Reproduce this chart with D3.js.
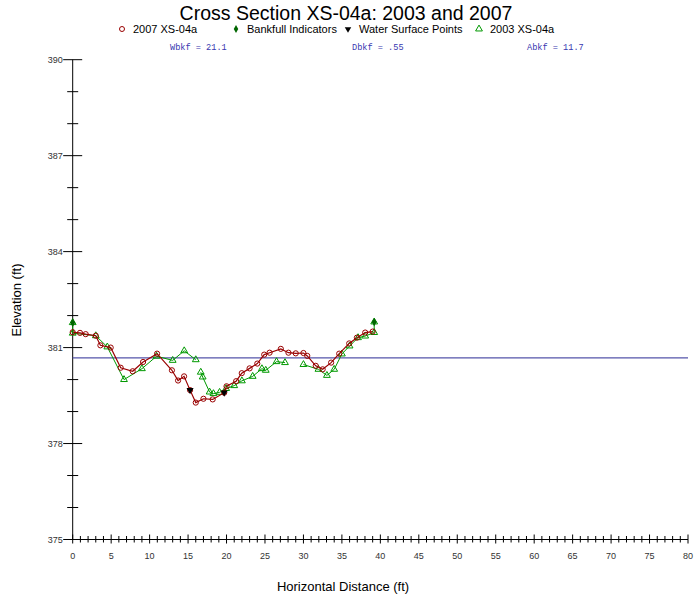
<!DOCTYPE html>
<html><head><meta charset="utf-8">
<script src="https://cdn.jsdelivr.net/npm/d3@7"></script>
<style>body{margin:0;background:#fff}svg{display:block}</style>
</head><body>
<script>
// ---- data ----
const title = "Cross Section XS-04a: 2003 and 2007";
const legendLabels = ["2007 XS-04a","Bankfull Indicators","Water Surface Points","2003 XS-04a"];
const statLabels = ["Wbkf = 21.1","Dbkf = .55","Abkf = 11.7"];
const xTicks = d3.range(0, 81, 5);
const yTicks = [375,378,381,384,387,390];
const xs2007 = [0,0.95,1.69,3.0,3.6,4.94,6.24,7.8,9.15,10.97,12.9,13.7,14.48,15.26,16.0,17.0,18.2,19.7,20.0,21.25,21.98,23.0,24.0,24.9,25.6,27.06,28.05,29.0,30.0,30.5,31.6,32.5,33.6,34.65,35.95,36.95,38.03,39.0];
const ys2007 = [381.48,381.46,381.42,381.37,381.07,381.0,380.37,380.26,380.55,380.81,380.29,379.97,380.1,379.67,379.28,379.4,379.38,379.59,379.79,379.95,380.2,380.35,380.5,380.78,380.84,380.96,380.84,380.82,380.83,380.74,380.43,380.32,380.53,380.81,381.13,381.31,381.47,381.5];
// 2003 survey in segments (gaps in the line)
const xs2003 = [[0,0,3.0,4.5,6.67,9.0,10.9,13.0,14.5,16.0],
                [16.65,16.9,17.8,18.3,19.1,19.95,21.0,22.0,23.4,24.6,25.1,26.5,27.6],
                [30.0,31.95,33.05,34.0,35.0,36.0,37.1,38.03,39.2,39.2]];
const ys2003 = [[381.78,381.45,381.37,381.02,380.0,380.34,380.73,380.6,380.9,380.62],
                [380.23,380.08,379.61,379.56,379.6,379.72,379.81,379.96,380.1,380.34,380.29,380.56,380.53],
                [380.47,380.32,380.13,380.32,380.8,381.05,381.31,381.36,381.47,381.8]];
const bankX = [0,39.2];
const bankY = [381.78,381.8];
const wsX = [15.26,19.7];
const wsY = [379.67,379.59];
const waterLevel = 380.68;

// ---- chart ----
const W = 696, H = 600;
const svg = d3.select("body").append("svg").attr("width", W).attr("height", H)
  .style("font-family", "Arial, 'Liberation Sans', sans-serif");
const x = d3.scaleLinear().domain([0, 80]).range([72.7, 688]);
const y = d3.scaleLinear().domain([375, 390]).range([539.5, 59.7]);

const red = "#990000", green = "#009900", dkgreen = "#006600", blue = "#5555aa";

// title & legend
svg.append("text").attr("x", 346).attr("y", 20).attr("text-anchor", "middle")
  .attr("font-size", 19.5).attr("fill", "#000").text(title);
const legX = [122, 236, 348, 479];
legendLabels.forEach((t, i) => {
  const g = svg.append("g").attr("transform", `translate(${legX[i]},29)`);
  if (i === 0) g.append("circle").attr("r", 2.5).attr("fill", "none").attr("stroke", red).attr("stroke-width", 1);
  if (i === 1) g.append("path").attr("d", d3.symbol(d3.symbolDiamond, 18)).attr("fill", dkgreen);
  if (i === 2) g.append("path").attr("d", d3.symbol(d3.symbolTriangle, 18)).attr("transform", "rotate(180)").attr("fill", "#000");
  if (i === 3) g.append("path").attr("d", d3.symbol(d3.symbolTriangle, 20)).attr("fill", "none").attr("stroke", green).attr("stroke-width", 1);
  g.append("text").attr("x", 11).attr("y", 4).attr("font-size", 11).attr("fill", "#000").text(t);
});
const statX = [170, 352, 527];
statLabels.forEach((t, i) => {
  svg.append("text").attr("x", statX[i]).attr("y", 50).attr("font-size", 8.6)
    .attr("font-family", "'Liberation Mono', 'DejaVu Sans Mono', monospace")
    .attr("fill", "#3838b0").text(t);
});

// axes
const yAxis = svg.append("g");
yAxis.append("line").attr("x1", x(0)).attr("x2", x(0)).attr("y1", y(390)).attr("y2", y(375)).attr("stroke", "#000");
d3.range(375, 391, 1).forEach(v => {
  const major = yTicks.includes(v);
  yAxis.append("line").attr("x1", x(0) - (major ? 9.5 : 5.5)).attr("x2", x(0) + (major ? 9.5 : 5.5))
    .attr("y1", y(v)).attr("y2", y(v)).attr("stroke", "#000");
});
yTicks.forEach(v => {
  yAxis.append("text").attr("x", x(0) - 10).attr("y", y(v) + 3.5).attr("text-anchor", "end")
    .attr("font-size", 9).attr("fill", "#333").text(v);
});
const xAxis = svg.append("g");
xAxis.append("line").attr("x1", x(0)).attr("x2", x(80)).attr("y1", y(375)).attr("y2", y(375)).attr("stroke", "#000");
d3.range(0, 81, 1).forEach(v => {
  const major = v % 5 === 0;
  xAxis.append("line").attr("x1", x(v)).attr("x2", x(v))
    .attr("y1", y(375) - (major ? 5 : 3.5)).attr("y2", y(375) + (major ? 4 : 3)).attr("stroke", "#000");
});
xTicks.forEach(v => {
  xAxis.append("text").attr("x", x(v)).attr("y", y(375) + 19).attr("text-anchor", "middle")
    .attr("font-size", 9).attr("fill", "#333").text(v);
});
svg.append("text").attr("x", 343).attr("y", 591).attr("text-anchor", "middle")
  .attr("font-size", 13).attr("fill", "#000").text("Horizontal Distance (ft)");
svg.append("text").attr("transform", "translate(21,300) rotate(-90)").attr("text-anchor", "middle")
  .attr("font-size", 13).attr("fill", "#000").text("Elevation (ft)");

// water level line
svg.append("line").attr("x1", x(0)).attr("x2", x(80)).attr("y1", y(waterLevel)).attr("y2", y(waterLevel))
  .attr("stroke", blue).attr("stroke-width", 1.3);

const line = d3.line().x(d => x(d[0])).y(d => y(d[1]));

// 2003
xs2003.forEach((seg, s) => {
  const pts = seg.map((v, i) => [v, ys2003[s][i]]);
  svg.append("path").attr("d", line(pts)).attr("fill", "none").attr("stroke", green).attr("stroke-width", 1);
  pts.forEach(p => svg.append("path").attr("d", d3.symbol(d3.symbolTriangle, 20)())
    .attr("transform", `translate(${x(p[0])},${y(p[1])})`).attr("fill", "none").attr("stroke", green).attr("stroke-width", 1));
});

// 2007
const p2007 = xs2007.map((v, i) => [v, ys2007[i]]);
svg.append("path").attr("d", line(p2007)).attr("fill", "none").attr("stroke", red).attr("stroke-width", 1.2);
p2007.forEach(p => svg.append("circle").attr("cx", x(p[0])).attr("cy", y(p[1])).attr("r", 2.6)
  .attr("fill", "none").attr("stroke", red).attr("stroke-width", 1));

// water surface points
wsX.forEach((v, i) => svg.append("path").attr("d", d3.symbol(d3.symbolTriangle, 22)())
  .attr("transform", `translate(${x(v)},${y(wsY[i])}) rotate(180)`).attr("fill", "#000"));
// bankfull
bankX.forEach((v, i) => svg.append("path").attr("d", d3.symbol(d3.symbolDiamond, 22)())
  .attr("transform", `translate(${x(v)},${y(bankY[i])})`).attr("fill", dkgreen));
</script>
</body></html>
